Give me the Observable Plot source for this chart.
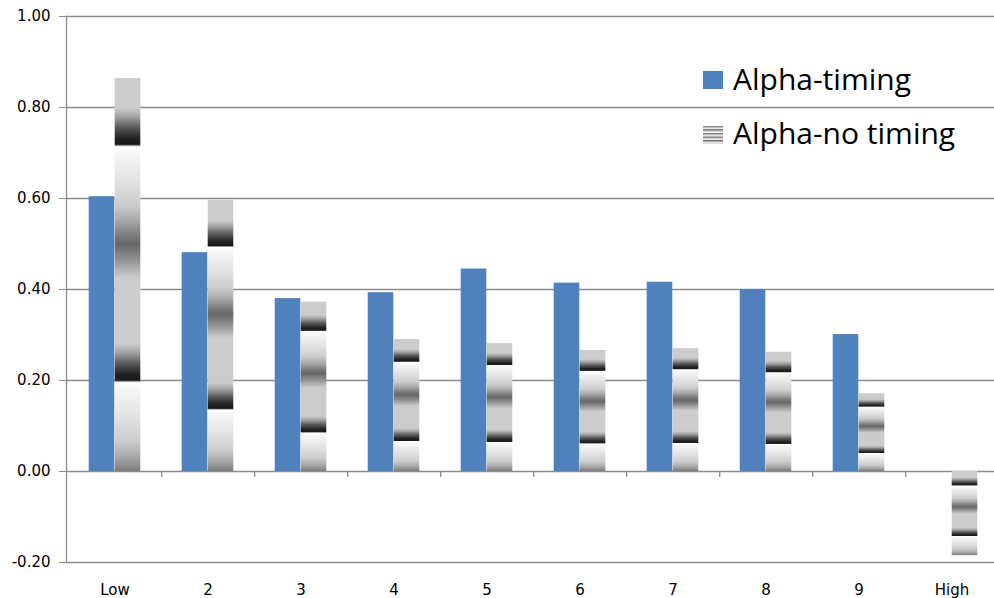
<!DOCTYPE html>
<html>
<head>
<meta charset="utf-8">
<script src="https://cdn.jsdelivr.net/npm/d3@7"></script>
<script src="https://cdn.jsdelivr.net/npm/@observablehq/plot@0.6"></script>
<style>
  html, body { margin: 0; padding: 0; background: #fff; }
  #wrap { position: relative; width: 994px; height: 598px; overflow: hidden; }
  .lg-text { position: absolute; font-family: "Open Sans", sans-serif; font-size: 30px; line-height: 30px; color: #000; white-space: nowrap; }
  .lg-sw { position: absolute; width: 20px; height: 18px; }
</style>
</head>
<body>
<div id="wrap"></div>
<script>
// ---- data ----
const categories = ["Low", "2", "3", "4", "5", "6", "7", "8", "9", "High"];
const alphaTiming = [0.604, 0.481, 0.380, 0.393, 0.445, 0.414, 0.416, 0.400, 0.301, null];
const alphaNoTiming = [0.864, 0.596, 0.372, 0.290, 0.281, 0.266, 0.270, 0.262, 0.171, -0.185];
const yTicks = [-0.2, 0, 0.2, 0.4, 0.6, 0.8, 1.0];
const seriesNames = ["Alpha-timing", "Alpha-no timing"];

// ---- tables built from arrays ----
const timingRows = categories.map((c, i) => ({cat: c, value: alphaTiming[i]})).filter(d => d.value != null);
const noTimingRows = categories.map((c, i) => ({cat: c, value: alphaNoTiming[i]}));

const W = 994, H = 598;
const left = 66, right = 1000;
const band = (right - left) / categories.length;
const half = band / 2;
const barW = 26;
const gridColor = "#8c8c8c";
const blue = "#4f81bd";

const chart = Plot.plot({
  width: W,
  height: H,
  marginLeft: left,
  marginRight: 0,
  marginTop: 16,
  marginBottom: 36,
  style: {fontFamily: "'DejaVu Sans', sans-serif", fontSize: "15px", color: "#000", background: "#fff", overflow: "visible"},
  x: {type: "band", domain: categories, range: [left, right], padding: 0, label: null},
  y: {domain: [-0.2, 1.0], label: null},
  marks: [
    Plot.ruleY(yTicks, {stroke: gridColor, strokeWidth: 1.3}),
    Plot.frame({anchor: "left", stroke: gridColor, strokeWidth: 1.3}),
    Plot.axisY({ticks: yTicks, tickFormat: d => d.toFixed(2), tickSize: 7, tickPadding: 9, stroke: gridColor, label: null}),
    Plot.axisX({tickSize: 0, tickPadding: 22, label: null}),
    Plot.ruleX(categories.slice(0, -1), {x: d => d, y1: 0, y2: 0, dx: half, insetBottom: -6, stroke: gridColor, strokeWidth: 1.3}),
    Plot.barY(timingRows, {x: "cat", y1: 0, y2: "value", fill: blue, insetLeft: half - barW, insetRight: half}),
    Plot.barY(noTimingRows, {x: "cat", y1: 0, y2: "value", fill: "url(#noTimingFill)", insetLeft: half, insetRight: half - barW})
  ]
});

// gradient texture for the "no timing" bars (repeats within each bar)
const defs = d3.select(chart).insert("defs", ":first-child");
const grad = defs.append("linearGradient")
  .attr("id", "noTimingFill")
  .attr("gradientUnits", "objectBoundingBox")
  .attr("spreadMethod", "repeat")
  .attr("x1", 0).attr("y1", 1).attr("x2", 0).attr("y2", 0.4);
const stops = [
  [0.00, "#7c7c7c"], [0.06, "#a8a8a8"], [0.13, "#cdcdcd"], [0.25, "#e6e6e6"],
  [0.35, "#f7f7f7"], [0.375, "#ffffff"], [0.385, "#1a1a1a"], [0.41, "#222222"],
  [0.46, "#5e5e5e"], [0.50, "#a0a0a0"], [0.54, "#cccccc"], [0.82, "#cccccc"],
  [0.90, "#8e8e8e"], [0.96, "#676767"], [1.00, "#7c7c7c"]
];
stops.forEach(([o, c]) => grad.append("stop").attr("offset", o).attr("stop-color", c));

const wrap = document.getElementById("wrap");
wrap.appendChild(chart);

// legend (inside plot area, top right)
const swatchStyles = [
  `background:${blue}`,
  "background:repeating-linear-gradient(to bottom,#6e6e6e 0px,#dcdcdc 2px,#f4f4f4 3px,#6e6e6e 3.6px)"
];
seriesNames.forEach((name, i) => {
  const sw = document.createElement("div");
  sw.className = "lg-sw";
  sw.style.cssText = `left:703px;top:${71 + i * 55}px;` + swatchStyles[i];
  wrap.appendChild(sw);
  const t = document.createElement("div");
  t.className = "lg-text";
  t.style.left = "733px";
  t.style.top = (63.5 + i * 54) + "px";
  t.textContent = name;
  wrap.appendChild(t);
});
</script>
</body>
</html>
